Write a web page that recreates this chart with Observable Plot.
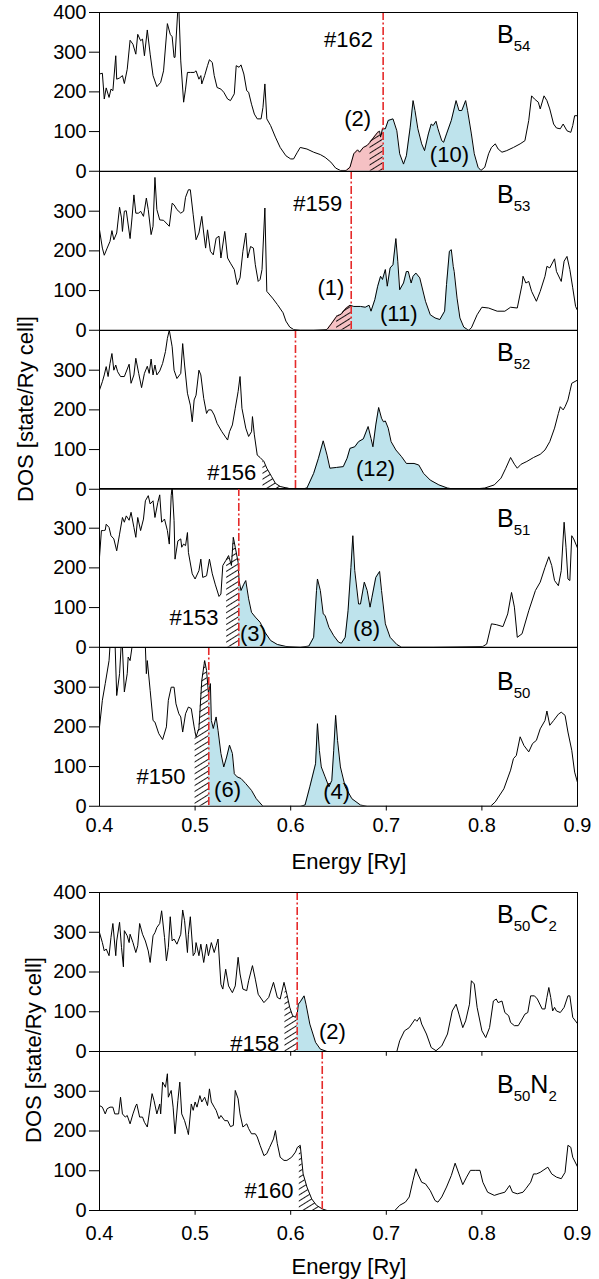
<!DOCTYPE html>
<html><head><meta charset="utf-8">
<script src="https://cdn.jsdelivr.net/npm/d3@7"></script>
<script src="https://cdn.jsdelivr.net/npm/@observablehq/plot@0.6"></script>
<style>
body{margin:0;background:#fff;}
#chart{position:relative;width:599px;height:1279px;font-family:"Liberation Sans",Arial,Helvetica,sans-serif;background:#fff;overflow:hidden;}
#chart svg{position:absolute;left:0;overflow:visible;background:transparent;}
.lbl{position:absolute;font-size:22px;white-space:nowrap;color:#000;transform:translate(-50%,-50%);}
.rot{transform:translate(-50%,-50%) rotate(-90deg);font-size:22px;}
</style></head><body><div id="chart"></div>
<script>
// ---------- data: DOS curves [energy (Ry), DOS (state/Ry cell)] ----------
const b54 = [[0.400,245],[0.403,247],[0.405,182],[0.407,210],[0.410,186],[0.412,207],[0.414,203],[0.417,291],[0.418,232],[0.421,235],[0.424,241],[0.426,221],[0.429,257],[0.432,330],[0.435,320],[0.438,295],[0.440,345],[0.443,329],[0.445,333],[0.447,291],[0.450,356],[0.453,295],[0.456,241],[0.460,213],[0.464,224],[0.467,253],[0.471,372],[0.474,345],[0.476,339],[0.478,287],[0.479,287],[0.482,410],[0.483,410],[0.485,278],[0.488,174],[0.490,207],[0.492,249],[0.495,249],[0.499,249],[0.501,253],[0.504,232],[0.506,241],[0.507,220],[0.510,241],[0.513,266],[0.515,281],[0.518,274],[0.520,241],[0.523,211],[0.527,207],[0.530,199],[0.534,182],[0.537,178],[0.541,195],[0.543,266],[0.546,262],[0.548,268],[0.551,245],[0.554,203],[0.556,199],[0.559,169],[0.562,144],[0.565,132],[0.569,132],[0.571,161],[0.573,220],[0.575,132],[0.579,115],[0.584,86],[0.589,60],[0.595,39],[0.600,31],[0.603,31],[0.607,48],[0.610,60],[0.617,56],[0.624,48],[0.631,42],[0.636,35],[0.642,23],[0.647,8],[0.652,2],[0.658,2],[0.662,10],[0.666,44],[0.670,54],[0.672,48],[0.676,60],[0.680,65],[0.683,73],[0.687,86],[0.691,98],[0.693,101],[0.694,86],[0.696,107],[0.699,107],[0.702,128],[0.707,132],[0.711,102],[0.714,44],[0.718,18],[0.721,39],[0.725,111],[0.728,178],[0.730,153],[0.733,107],[0.737,69],[0.740,52],[0.744,94],[0.747,119],[0.749,115],[0.752,126],[0.754,107],[0.758,77],[0.760,73],[0.763,94],[0.768,128],[0.773,178],[0.776,153],[0.779,153],[0.783,178],[0.785,153],[0.789,94],[0.792,44],[0.796,10],[0.799,2],[0.803,10],[0.807,44],[0.810,60],[0.814,69],[0.817,56],[0.821,48],[0.826,52],[0.833,60],[0.840,69],[0.845,77],[0.849,128],[0.852,190],[0.855,182],[0.859,174],[0.861,157],[0.865,190],[0.868,178],[0.871,157],[0.875,119],[0.878,109],[0.882,107],[0.885,119],[0.889,102],[0.893,98],[0.895,115],[0.897,140],[0.900,140]];
const b53 = [[0.400,253],[0.403,207],[0.405,189],[0.408,207],[0.411,224],[0.413,251],[0.415,228],[0.418,245],[0.421,310],[0.423,283],[0.424,249],[0.426,300],[0.428,301],[0.432,231],[0.434,283],[0.436,341],[0.438,295],[0.441,295],[0.443,300],[0.446,287],[0.449,333],[0.451,304],[0.454,241],[0.456,262],[0.458,385],[0.460,304],[0.463,278],[0.467,277],[0.473,262],[0.476,320],[0.478,316],[0.481,304],[0.485,295],[0.488,300],[0.490,335],[0.493,354],[0.495,354],[0.498,291],[0.501,228],[0.504,245],[0.507,287],[0.509,245],[0.511,207],[0.513,253],[0.516,199],[0.519,190],[0.522,232],[0.525,237],[0.527,182],[0.531,249],[0.534,182],[0.537,169],[0.541,153],[0.544,115],[0.547,132],[0.550,199],[0.553,245],[0.555,182],[0.558,211],[0.561,207],[0.563,165],[0.566,123],[0.568,128],[0.570,153],[0.573,308],[0.575,98],[0.581,81],[0.586,65],[0.592,44],[0.595,23],[0.599,8],[0.603,2],[0.610,0],[0.624,0],[0.638,2],[0.643,18],[0.648,35],[0.653,41],[0.658,56],[0.662,63],[0.666,60],[0.673,60],[0.678,58],[0.682,63],[0.684,48],[0.688,77],[0.691,111],[0.694,136],[0.696,128],[0.699,153],[0.701,111],[0.704,157],[0.707,165],[0.710,231],[0.712,174],[0.714,102],[0.718,119],[0.721,148],[0.723,148],[0.726,119],[0.728,136],[0.731,144],[0.735,132],[0.741,73],[0.746,39],[0.751,31],[0.756,27],[0.761,48],[0.763,115],[0.766,199],[0.768,203],[0.770,161],[0.771,148],[0.774,81],[0.777,31],[0.781,8],[0.786,0],[0.789,6],[0.795,39],[0.800,58],[0.807,56],[0.816,48],[0.824,48],[0.830,58],[0.837,56],[0.842,115],[0.843,136],[0.846,119],[0.849,123],[0.852,98],[0.857,73],[0.861,98],[0.866,136],[0.868,161],[0.871,157],[0.876,180],[0.878,148],[0.883,123],[0.886,174],[0.889,186],[0.892,153],[0.895,107],[0.898,60],[0.900,50]];
const b52 = [[0.400,250],[0.403,271],[0.405,288],[0.407,309],[0.409,284],[0.411,317],[0.413,342],[0.415,300],[0.417,313],[0.419,296],[0.422,284],[0.426,284],[0.431,315],[0.433,267],[0.436,288],[0.438,330],[0.441,292],[0.444,256],[0.447,292],[0.450,310],[0.452,292],[0.454,328],[0.456,288],[0.458,313],[0.460,288],[0.463,298],[0.466,317],[0.469,347],[0.471,380],[0.473,401],[0.476,359],[0.478,300],[0.481,279],[0.485,292],[0.487,367],[0.489,313],[0.492,242],[0.495,212],[0.497,170],[0.499,225],[0.501,237],[0.504,300],[0.506,288],[0.509,229],[0.512,191],[0.514,200],[0.517,200],[0.520,187],[0.523,166],[0.528,145],[0.534,124],[0.536,145],[0.539,162],[0.542,204],[0.545,246],[0.547,284],[0.549,204],[0.553,154],[0.556,133],[0.559,145],[0.560,183],[0.562,137],[0.565,86],[0.568,80],[0.572,70],[0.575,53],[0.580,32],[0.584,15],[0.589,7],[0.596,3],[0.603,0],[0.610,0],[0.617,3],[0.624,40],[0.629,78],[0.634,122],[0.638,86],[0.641,53],[0.648,55],[0.655,57],[0.659,78],[0.662,103],[0.667,107],[0.671,120],[0.676,127],[0.681,158],[0.684,128],[0.686,107],[0.689,162],[0.692,206],[0.695,179],[0.697,170],[0.699,172],[0.702,154],[0.705,120],[0.710,99],[0.716,82],[0.721,65],[0.729,65],[0.734,61],[0.739,40],[0.746,23],[0.755,11],[0.764,3],[0.772,0],[0.789,0],[0.803,3],[0.813,11],[0.820,28],[0.825,53],[0.830,80],[0.834,63],[0.837,53],[0.841,63],[0.847,70],[0.854,80],[0.861,88],[0.866,99],[0.871,120],[0.876,154],[0.880,191],[0.882,208],[0.885,200],[0.887,208],[0.890,225],[0.892,246],[0.894,267],[0.900,275]];
const b51 = [[0.400,227],[0.402,294],[0.404,294],[0.406,295],[0.407,310],[0.410,302],[0.412,281],[0.415,273],[0.418,243],[0.421,285],[0.424,327],[0.426,315],[0.428,331],[0.431,320],[0.433,340],[0.436,302],[0.438,277],[0.440,327],[0.443,294],[0.446,323],[0.448,369],[0.451,382],[0.453,361],[0.456,369],[0.458,327],[0.461,365],[0.463,384],[0.465,315],[0.468,323],[0.471,294],[0.473,260],[0.475,382],[0.476,405],[0.478,319],[0.479,222],[0.482,268],[0.485,273],[0.486,252],[0.488,260],[0.490,256],[0.492,289],[0.493,239],[0.497,185],[0.500,172],[0.504,193],[0.506,222],[0.508,176],[0.512,180],[0.515,222],[0.518,185],[0.521,159],[0.525,128],[0.527,134],[0.529,206],[0.532,218],[0.535,231],[0.538,206],[0.540,277],[0.542,252],[0.545,214],[0.546,168],[0.548,143],[0.551,159],[0.553,168],[0.556,122],[0.559,88],[0.563,76],[0.568,63],[0.573,38],[0.579,17],[0.586,7],[0.595,2],[0.610,0],[0.619,3],[0.624,25],[0.627,143],[0.628,172],[0.631,143],[0.634,84],[0.636,80],[0.640,50],[0.645,29],[0.650,13],[0.653,10],[0.657,25],[0.660,92],[0.663,201],[0.665,281],[0.667,193],[0.671,109],[0.673,109],[0.677,164],[0.680,143],[0.683,101],[0.685,126],[0.689,176],[0.693,191],[0.695,143],[0.699,59],[0.704,25],[0.711,7],[0.716,0],[0.749,0],[0.801,2],[0.805,8],[0.810,59],[0.815,57],[0.822,52],[0.827,84],[0.831,138],[0.834,101],[0.837,25],[0.842,34],[0.849,92],[0.856,143],[0.861,164],[0.866,201],[0.870,228],[0.873,206],[0.876,168],[0.880,155],[0.883,193],[0.886,315],[0.888,252],[0.890,172],[0.892,168],[0.894,281],[0.896,273],[0.900,250]];
const b50 = [[0.400,200],[0.403,267],[0.406,309],[0.410,367],[0.413,480],[0.416,430],[0.418,279],[0.421,334],[0.423,420],[0.424,400],[0.426,288],[0.429,334],[0.430,376],[0.432,367],[0.434,401],[0.437,460],[0.442,470],[0.446,446],[0.448,401],[0.449,334],[0.450,367],[0.453,292],[0.456,216],[0.458,212],[0.462,183],[0.466,168],[0.470,200],[0.472,267],[0.475,300],[0.478,300],[0.480,258],[0.483,233],[0.485,225],[0.487,187],[0.490,233],[0.493,250],[0.496,246],[0.499,200],[0.501,175],[0.504,196],[0.507,317],[0.510,367],[0.512,342],[0.514,284],[0.516,309],[0.517,216],[0.519,196],[0.522,225],[0.524,191],[0.527,133],[0.530,99],[0.533,124],[0.536,154],[0.539,133],[0.541,82],[0.544,74],[0.548,70],[0.553,57],[0.559,40],[0.564,19],[0.571,0],[0.610,0],[0.615,3],[0.620,49],[0.626,107],[0.628,208],[0.630,141],[0.632,99],[0.636,74],[0.640,49],[0.643,65],[0.645,141],[0.647,229],[0.649,166],[0.652,99],[0.657,49],[0.664,19],[0.673,3],[0.680,0],[0.809,0],[0.814,11],[0.823,44],[0.830,91],[0.833,120],[0.836,128],[0.840,175],[0.844,153],[0.849,137],[0.853,158],[0.857,166],[0.861,195],[0.866,216],[0.868,240],[0.871,204],[0.875,216],[0.880,232],[0.883,237],[0.887,229],[0.890,187],[0.894,141],[0.897,86],[0.900,60]];
const b50c2 = [[0.400,299],[0.403,274],[0.405,253],[0.407,258],[0.410,241],[0.412,287],[0.414,322],[0.417,241],[0.418,278],[0.421,325],[0.423,262],[0.425,213],[0.426,304],[0.429,291],[0.431,274],[0.432,295],[0.435,274],[0.438,249],[0.440,266],[0.442,322],[0.445,295],[0.448,278],[0.451,253],[0.453,224],[0.456,291],[0.458,299],[0.460,312],[0.463,322],[0.465,354],[0.468,287],[0.470,228],[0.472,262],[0.474,339],[0.476,278],[0.478,283],[0.481,270],[0.485,295],[0.487,356],[0.489,329],[0.492,249],[0.493,295],[0.495,339],[0.498,241],[0.500,249],[0.501,274],[0.504,241],[0.506,270],[0.509,224],[0.512,270],[0.514,241],[0.517,274],[0.520,249],[0.522,266],[0.524,283],[0.527,169],[0.529,157],[0.532,207],[0.535,165],[0.539,148],[0.542,165],[0.545,237],[0.547,195],[0.550,157],[0.554,153],[0.556,178],[0.560,216],[0.563,182],[0.566,144],[0.572,123],[0.577,136],[0.582,174],[0.586,136],[0.589,132],[0.593,174],[0.596,144],[0.599,111],[0.602,90],[0.605,86],[0.607,98],[0.608,119],[0.610,125],[0.614,140],[0.616,119],[0.620,69],[0.626,23],[0.631,6],[0.638,0],[0.711,0],[0.714,27],[0.719,52],[0.724,60],[0.730,81],[0.732,76],[0.735,86],[0.737,69],[0.742,44],[0.747,10],[0.752,2],[0.758,14],[0.764,44],[0.769,102],[0.773,119],[0.776,94],[0.780,60],[0.783,77],[0.787,119],[0.789,178],[0.792,170],[0.795,111],[0.800,52],[0.804,35],[0.808,60],[0.812,127],[0.815,132],[0.817,123],[0.821,127],[0.824,98],[0.828,90],[0.830,73],[0.834,65],[0.838,65],[0.841,77],[0.845,94],[0.848,98],[0.851,140],[0.855,140],[0.858,132],[0.863,107],[0.866,107],[0.868,136],[0.870,161],[0.872,136],[0.874,102],[0.876,111],[0.878,102],[0.882,98],[0.886,111],[0.890,140],[0.892,140],[0.895,86],[0.900,70]];
const b50n2 = [[0.400,264],[0.403,260],[0.406,243],[0.408,256],[0.411,260],[0.414,260],[0.416,243],[0.420,243],[0.422,285],[0.424,243],[0.427,235],[0.429,239],[0.432,218],[0.435,243],[0.438,264],[0.439,268],[0.442,235],[0.445,235],[0.447,222],[0.450,210],[0.453,260],[0.455,294],[0.457,277],[0.460,243],[0.463,268],[0.464,243],[0.466,323],[0.469,310],[0.471,344],[0.472,285],[0.475,302],[0.477,260],[0.479,193],[0.482,277],[0.484,323],[0.486,243],[0.489,226],[0.492,201],[0.493,191],[0.496,268],[0.498,252],[0.500,273],[0.502,260],[0.505,289],[0.507,273],[0.510,285],[0.513,264],[0.515,306],[0.517,273],[0.520,260],[0.522,252],[0.525,231],[0.527,239],[0.531,226],[0.534,226],[0.537,211],[0.540,214],[0.542,302],[0.545,281],[0.547,243],[0.550,210],[0.554,218],[0.556,206],[0.559,193],[0.563,193],[0.565,185],[0.568,164],[0.572,138],[0.575,143],[0.578,159],[0.582,180],[0.584,201],[0.586,168],[0.589,134],[0.593,126],[0.596,126],[0.601,134],[0.605,147],[0.607,159],[0.610,164],[0.613,92],[0.617,59],[0.622,29],[0.627,13],[0.633,4],[0.638,0],[0.709,0],[0.714,13],[0.720,21],[0.724,34],[0.728,76],[0.731,105],[0.733,92],[0.737,71],[0.741,67],[0.746,50],[0.751,25],[0.754,21],[0.758,34],[0.763,59],[0.768,88],[0.772,119],[0.776,92],[0.780,65],[0.784,84],[0.788,101],[0.793,101],[0.798,101],[0.801,71],[0.806,46],[0.813,38],[0.818,42],[0.824,46],[0.829,63],[0.832,46],[0.837,42],[0.843,46],[0.846,55],[0.851,71],[0.854,92],[0.857,92],[0.861,96],[0.864,101],[0.869,109],[0.873,92],[0.878,84],[0.883,80],[0.887,96],[0.890,164],[0.893,159],[0.895,134],[0.900,110]];

const series = [b54, b53, b52, b51, b50, b50c2, b50n2];
const formulas = [[["B","54"]],[["B","53"]],[["B","52"]],[["B","51"]],[["B","50"]],[["B","50"],["C","2"]],[["B","50"],["N","2"]]];
const fermiLevels = [0.6967, 0.6633, 0.605, 0.5457, 0.5143, 0.6068, 0.633];
const homoNames = ["#162", "#159", "#156", "#153", "#150", "#158", "#160"];
const pinkRanges = [[0.656, 0.6967], [0.637, 0.6633], null, null, null, null, null];
const hatchRanges = [[0.683, 0.6967], [0.648, 0.6633], [0.571, 0.605], [0.533, 0.5457], [0.500, 0.5143], [0.594, 0.6068], [0.609, 0.633]];
const blueRanges = [[[0.6967, 0.80]], [[0.6633, 0.787]], [[0.615, 0.768]], [[0.5457, 0.598], [0.618, 0.717]], [[0.5143, 0.573], [0.612, 0.675]], [[0.6068, 0.638]], []];
const countTexts = [["(2)", "(10)"], ["(1)", "(11)"], ["(12)"], ["(3)", "(8)"], ["(6)", "(4)"], ["(2)"], []];
const xTickValues = [0.4, 0.5, 0.6, 0.7, 0.8, 0.9];

// ---------- layout (positions in data units of each panel) ----------
const homoPos = [[0.686, 331], [0.654, 317], [0.564, 40], [0.5245, 75], [0.49, 75], [0.588, 20], [0.603, 49]];
const countPos = [[[0.670, 133], [0.766, 40]], [[0.642, 106], [0.713, 40]], [[0.6887, 52]], [[0.561, 34], [0.6793, 47]], [[0.5339, 40], [0.648, 35]], [[0.6437, 48]], []];
const formulaPos = [[0.8163, 321], [0.8163, 320], [0.8163, 321], [0.8163, 301], [0.8163, 292], [0.8163, 322], [0.8163, 294]];
const panelTop = [12, 170.75, 329.5, 488.25, 647, 892, 1051];
const panelH = [158.75, 158.75, 158.75, 158.75, 158.75, 159, 159];
const isLast = [false, false, false, false, true, false, true];
const xLabelDy = [0, 0, 0, 0, 12, 0, 15];

const chart = document.getElementById("chart");
const FONT = '"Liberation Sans", Arial, Helvetica, sans-serif';

function valueAt(data, e) {
  for (let i = 0; i < data.length - 1; i++) {
    const [x0, y0] = data[i], [x1, y1] = data[i + 1];
    if (e >= x0 && e <= x1) return x1 === x0 ? y0 : y0 + (y1 - y0) * (e - x0) / (x1 - x0);
  }
  return 0;
}
function segment(data, a, b) {
  return [[a, valueAt(data, a)], ...data.filter(d => d[0] > a && d[0] < b), [b, valueAt(data, b)]];
}
const hatchDefs = (id) => () => {
  const defs = d3.create("svg:defs");
  const p = defs.append("pattern").attr("id", id).attr("patternUnits", "userSpaceOnUse")
    .attr("width", 5).attr("height", 5).attr("patternTransform", "rotate(-32)");
  p.append("line").attr("x1", -1).attr("y1", 2.5).attr("x2", 6).attr("y2", 2.5)
    .attr("stroke", "#000").attr("stroke-width", 0.9);
  return defs.node();
};
const formulaMark = (parts, ex, ey) => (index, scales) => {
  const t = d3.create("svg:text").attr("x", scales.x(ex)).attr("y", scales.y(ey))
    .attr("dy", "0.35em").attr("fill", "#000").attr("text-anchor", "start")
    .attr("font-family", FONT).attr("font-size", 25);
  let shift = 0;
  for (const [main, sub] of parts) {
    t.append("tspan").attr("font-size", 25).attr("dy", -shift).text(main);
    t.append("tspan").attr("font-size", 15).attr("dy", 8).text(sub);
    shift = 8;
  }
  return t.node();
};

series.forEach((data, i) => {
  const mt = 14, mb = isLast[i] ? 45 : 14;
  const id = "hatch" + i;
  const yTicks = (i === 0 || i === 5) ? [0, 100, 200, 300, 400] : [0, 100, 200, 300];
  const areaOpts = {x: d => d[0], y: d => d[1], clip: true};
  const marks = [
    hatchDefs(id),
    pinkRanges[i] ? Plot.areaY(segment(data, ...pinkRanges[i]), {...areaOpts, fill: "#f5c1c4"}) : null,
    ...blueRanges[i].map(r => Plot.areaY(segment(data, ...r), {...areaOpts, fill: "#bee3ec"})),
    Plot.areaY(segment(data, ...hatchRanges[i]), {...areaOpts, fill: `url(#${id})`}),
    Plot.lineY(data, {x: d => d[0], y: d => d[1], stroke: "#000", strokeWidth: 1, clip: true}),
    Plot.ruleX([fermiLevels[i]], {stroke: "#e52a2a", strokeWidth: 1.6, strokeDasharray: "8,2.5,2,2.5"}),
    Plot.frame({stroke: "#000", strokeWidth: 1}),
    Plot.axisY(yTicks, {tickSize: 10, tickFormat: () => "", label: null}),
    Plot.text(yTicks, {y: d => d, text: d => String(d), frameAnchor: "left", textAnchor: "end", dx: -13, fontSize: 20, fill: "#000"}),
    isLast[i] ? Plot.text(xTickValues, {x: d => d, text: d => d.toFixed(1), frameAnchor: "bottom", lineAnchor: "top", dy: xLabelDy[i], fontSize: 20, fill: "#000"}) : null,
    (i === 4 || i === 5 || i === 6) ? Plot.ruleX(xTickValues.slice(1, -1), {y1: 0, y2: -12, stroke: "#000"}) : null,
    Plot.text([{x: homoPos[i][0], y: homoPos[i][1], t: homoNames[i]}], {x: "x", y: "y", text: "t", textAnchor: "end", fontSize: 22, fill: "#000"}),
    Plot.text(countTexts[i].map((t, j) => ({x: countPos[i][j][0], y: countPos[i][j][1], t})), {x: "x", y: "y", text: "t", fontSize: 22, fill: "#000"}),
    formulaMark(formulas[i], ...formulaPos[i])
  ].filter(Boolean);
  const svg = Plot.plot({
    width: 599, height: mt + panelH[i] + mb,
    marginLeft: 99, marginRight: 22, marginTop: mt, marginBottom: mb,
    x: {domain: [0.4, 0.9], axis: null},
    y: {domain: [0, 400]},
    style: {fontFamily: FONT, fontSize: "20px", background: "transparent", overflow: "visible", color: "#000"},
    marks
  });
  svg.style.top = (panelTop[i] - mt) + "px";
  chart.appendChild(svg);
});

function addLabel(text, x, y, cls) {
  const d = document.createElement("div");
  d.className = "lbl" + (cls ? " " + cls : "");
  d.textContent = text;
  d.style.left = x + "px";
  d.style.top = y + "px";
  chart.appendChild(d);
}
addLabel("Energy [Ry]", 349, 862);
addLabel("Energy [Ry]", 349, 1267);
addLabel("DOS [state/Ry cell]", 26, 409, "rot");
addLabel("DOS [state/Ry cell]", 34, 1050, "rot");
</script></body></html>
